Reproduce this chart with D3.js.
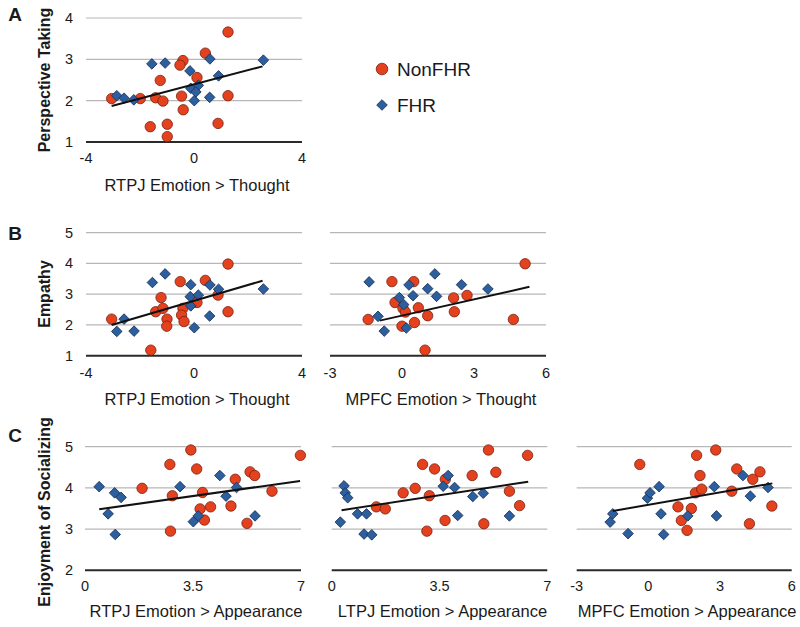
<!DOCTYPE html>
<html><head><meta charset="utf-8">
<script src="https://cdn.jsdelivr.net/npm/d3@7/dist/d3.min.js"></script>
<style>body{margin:0;background:#fff}svg{display:block}text{font-family:"Liberation Sans",Arial,Helvetica,sans-serif;fill:#1a1a1a}</style>
</head><body><svg id="c" width="800" height="627"></svg>
<script>
// ---------- DATA ----------
const seriesNames = ["NonFHR", "FHR"];
const rowLabels = ["A", "B", "C"];
const yTitles = ["Perspective Taking", "Empathy", "Enjoyment of Socializing"];
const xTitles = ["RTPJ Emotion > Thought", "RTPJ Emotion > Thought", "MPFC Emotion > Thought",
                 "RTPJ Emotion > Appearance", "LTPJ Emotion > Appearance", "MPFC Emotion > Appearance"];
const xTickLabels = [[-4,0,4],[-4,0,4],[-3,0,3,6],[0,3.5,7],[0,3.5,7],[-3,0,3,6]];
const yTickLabels = [[1,2,3,4],[1,2,3,4,5],[1,2,3,4,5],[2,3,4,5],[2,3,4,5],[2,3,4,5]];

// Panel A: RTPJ E>T vs Perspective Taking
const aNon = [[-3.05,2.05],[-1.99,2.05],[-1.42,2.07],[-1.15,1.99],[-1.25,2.49],[-1.62,1.37],[-0.99,1.43],[-0.99,1.13],[-0.41,2.97],[-0.52,2.86],[-0.46,2.11],[-0.40,1.78],[0.11,2.56],[0.42,3.15],[1.26,3.66],[1.26,2.12],[0.89,1.45]];
const aFhr = [[-2.86,2.12],[-2.59,2.06],[-2.23,2.02],[-1.56,2.89],[-1.07,2.91],[-0.15,2.72],[-0.12,2.30],[0.16,2.37],[0.07,2.21],[0.01,2.00],[0.59,3.01],[0.91,2.60],[0.58,2.08],[2.57,2.98]];
const aTrend = [[-3.05,1.87],[2.54,2.83]];

// Panel B1: RTPJ E>T vs Empathy
const b1Non = [[-3.05,2.19],[-1.60,1.18],[-1.42,2.43],[-1.22,2.89],[-1.15,2.54],[-1.00,2.19],[-1.01,1.96],[-0.51,3.41],[-0.41,2.54],[-0.46,2.32],[-0.37,2.11],[0.11,2.73],[0.42,3.45],[0.89,2.97],[1.26,3.98],[1.26,2.43]];
const b1Fhr = [[-2.86,1.79],[-2.59,2.19],[-2.22,1.80],[-1.54,3.38],[-1.07,3.66],[-0.12,3.31],[-0.14,2.92],[-0.12,2.62],[0.16,2.97],[0.01,1.91],[0.59,3.30],[0.91,3.16],[0.58,2.29],[2.57,3.17]];
const b1Trend = [[-3.05,2.00],[2.54,3.44]];

// Panel B2: MPFC E>T vs Empathy
const b2Non = [[-1.41,2.18],[-0.42,3.41],[-0.29,2.73],[0.04,2.54],[0.14,2.42],[0.00,1.96],[0.49,3.41],[0.52,2.08],[0.68,2.56],[0.96,1.18],[1.07,2.30],[2.15,2.88],[2.18,2.43],[2.71,2.96],[4.64,2.18],[5.13,3.99]];
const b2Fhr = [[-1.37,3.40],[-1.00,2.28],[-0.74,1.80],[-0.11,2.89],[0.07,2.66],[0.18,1.90],[0.29,3.30],[0.46,2.95],[1.07,3.18],[1.37,3.66],[1.44,2.93],[2.48,3.31],[3.58,3.17]];
const b2Trend = [[-0.93,2.14],[5.31,3.24]];

// Panel C1: RTPJ E>A vs Enjoyment of Socializing
const c1Non = [[1.85,3.99],[2.75,4.57],[2.83,3.81],[2.77,2.95],[3.43,4.92],[3.62,4.46],[3.81,3.89],[3.73,3.49],[3.87,3.22],[4.07,3.54],[4.73,3.56],[4.87,4.21],[5.25,3.14],[5.35,4.39],[5.50,4.30],[6.06,3.92],[6.98,4.79]];
const c1Fhr = [[0.46,4.03],[0.75,3.37],[0.96,3.88],[1.17,3.77],[0.98,2.87],[3.08,4.03],[3.51,3.18],[3.67,3.32],[4.37,4.30],[4.57,3.80],[4.91,4.01],[5.51,3.32]];
const c1Trend = [[0.46,3.48],[6.97,4.17]];

// Panel C2: LTPJ E>A vs Enjoyment of Socializing
const c2Non = [[1.45,3.54],[1.74,3.49],[2.32,3.88],[2.71,3.99],[2.95,4.57],[3.17,3.81],[3.09,2.95],[3.34,4.46],[3.69,4.21],[3.68,3.21],[4.56,4.30],[4.94,3.13],[5.09,4.92],[5.33,4.38],[5.77,3.92],[6.10,3.57],[6.36,4.79]];
const c2Fhr = [[0.28,3.17],[0.40,4.05],[0.44,3.88],[0.52,3.76],[0.84,3.37],[1.13,3.37],[1.05,2.88],[1.30,2.86],[3.62,4.04],[3.78,4.30],[3.99,4.01],[4.09,3.33],[4.58,3.79],[4.92,3.87],[5.77,3.32]];
const c2Trend = [[0.32,3.46],[6.38,4.15]];

// Panel C3: MPFC E>A vs Enjoyment of Socializing
const c3Non = [[-0.36,4.57],[1.24,3.54],[1.38,3.21],[1.62,2.97],[1.80,3.50],[1.97,3.88],[2.02,4.79],[2.16,4.30],[2.23,3.97],[2.82,4.92],[3.49,3.92],[3.70,4.46],[4.23,3.13],[4.37,4.21],[4.67,4.39],[5.17,3.56]];
const c3Fhr = [[-1.60,3.17],[-1.49,3.37],[-0.85,2.89],[-0.04,3.75],[0.07,3.88],[0.45,4.03],[0.53,3.37],[0.64,2.87],[1.65,3.32],[2.76,4.03],[2.85,3.32],[3.96,4.30],[4.27,3.80],[5.01,4.01]];
const c3Trend = [[-1.49,3.44],[5.19,4.11]];

// ---------- LAYOUT ----------
const svg = d3.select("#c");
const RED = "#e4411f", RED_S = "#7a200e", BLUE = "#2d5f9f", BLUE_S = "#15305a";
const diamond = d3.symbol().type(d3.symbolSquare).size(56)();

const panels = [
  {non:aNon, fhr:aFhr, trend:aTrend, xd:[-4,4], xr:[86,302], yd:[1,4], yr:[142,18], row:0, yLabels:true, tickY:163, titleY:191},
  {non:b1Non, fhr:b1Fhr, trend:b1Trend, xd:[-4,4], xr:[86,302], yd:[1,5], yr:[355.7,232.7], row:1, yLabels:true, tickY:378, titleY:405},
  {non:b2Non, fhr:b2Fhr, trend:b2Trend, xd:[-3,6], xr:[330,546], yd:[1,5], yr:[355.7,232.7], row:1, yLabels:false, tickY:378, titleY:405},
  {non:c1Non, fhr:c1Fhr, trend:c1Trend, xd:[0,7], xr:[85,301], yd:[2,5], yr:[570.3,446.7], row:2, yLabels:true, tickY:591, titleY:617},
  {non:c2Non, fhr:c2Fhr, trend:c2Trend, xd:[0,7], xr:[331.7,547.3], yd:[2,5], yr:[570.3,446.7], row:2, yLabels:false, tickY:591, titleY:617},
  {non:c3Non, fhr:c3Fhr, trend:c3Trend, xd:[-3,6], xr:[576.7,791.7], yd:[2,5], yr:[570.3,446.7], row:2, yLabels:false, tickY:591, titleY:617}
];

panels.forEach((p, i) => {
  const x = d3.scaleLinear().domain(p.xd).range(p.xr);
  const y = d3.scaleLinear().domain(p.yd).range(p.yr);
  const g = svg.append("g");
  const yt = yTickLabels[i];
  // gridlines
  g.selectAll("line.grid").data(yt.slice(1)).join("line")
    .attr("x1", p.xr[0]).attr("x2", p.xr[1])
    .attr("y1", d => y(d)).attr("y2", d => y(d))
    .attr("stroke", "#b9b6b6").attr("stroke-width", 1.2);
  // baseline
  g.append("line").attr("x1", p.xr[0]).attr("x2", p.xr[1])
    .attr("y1", y(p.yd[0])).attr("y2", y(p.yd[0]))
    .attr("stroke", "#2a2a2a").attr("stroke-width", 2);
  // y tick labels
  if (p.yLabels) {
    g.selectAll("text.yt").data(yt).join("text")
      .attr("x", 73).attr("y", d => y(d) + 5)
      .attr("text-anchor", "end").attr("font-size", 14.5).text(d => d);
  }
  // x tick labels
  g.selectAll("text.xt").data(xTickLabels[i]).join("text")
    .attr("x", d => x(d)).attr("y", p.tickY)
    .attr("text-anchor", "middle").attr("font-size", 14.5)
    .text(d => d < 0 ? "-" + Math.abs(d) : d);
  // x title
  g.append("text").attr("x", (p.xr[0] + p.xr[1]) / 2 + 3).attr("y", p.titleY)
    .attr("text-anchor", "middle").attr("font-size", 16.5).text(xTitles[i]);
  // points
  g.selectAll("circle.n").data(p.non).join("circle")
    .attr("cx", d => x(d[0])).attr("cy", d => y(d[1])).attr("r", 5.2)
    .attr("fill", RED).attr("stroke", RED_S).attr("stroke-width", 0.8);
  g.selectAll("path.f").data(p.fhr).join("path")
    .attr("d", diamond)
    .attr("transform", d => `translate(${x(d[0])},${y(d[1])}) rotate(45)`)
    .attr("fill", BLUE).attr("stroke", BLUE_S).attr("stroke-width", 0.8);
  // trend line
  g.append("path").datum(p.trend)
    .attr("d", d3.line().x(d => x(d[0])).y(d => y(d[1])))
    .attr("stroke", "#111").attr("stroke-width", 2).attr("fill", "none");
});

// row labels and y titles
const rowY = [[14, 80], [233, 294], [435, 512]];
rowLabels.forEach((l, r) => {
  svg.append("text").attr("x", 15).attr("y", rowY[r][0]).attr("dy", "0.35em")
    .attr("text-anchor", "middle").attr("font-size", 19).attr("font-weight", "bold").text(l);
  svg.append("text").attr("transform", `translate(50,${rowY[r][1]}) rotate(-90)`)
    .attr("text-anchor", "middle").attr("font-size", 16).attr("font-weight", "bold").text(yTitles[r]);
});

// legend
const lg = svg.append("g");
lg.append("circle").attr("cx", 382).attr("cy", 69).attr("r", 5.8)
  .attr("fill", RED).attr("stroke", RED_S).attr("stroke-width", 0.8);
lg.append("path").attr("d", diamond).attr("transform", "translate(382,105) rotate(45)")
  .attr("fill", BLUE).attr("stroke", BLUE_S).attr("stroke-width", 0.8);
lg.selectAll("text.l").data(seriesNames).join("text")
  .attr("x", 397).attr("y", (d, i) => 69 + i * 36 + 7)
  .attr("font-size", 19).text(d => d);
</script></body></html>
